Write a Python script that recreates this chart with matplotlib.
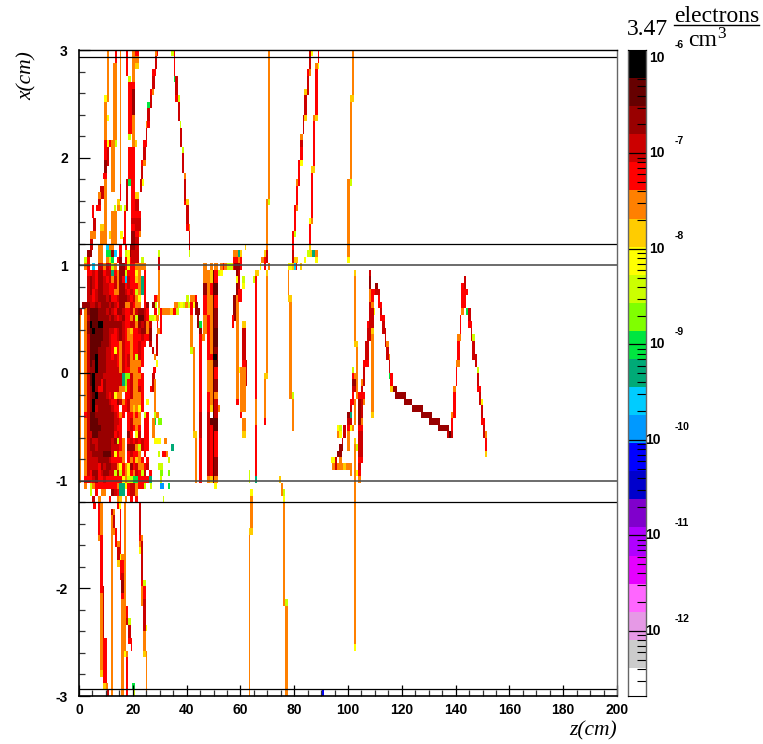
import numpy as np
import matplotlib
matplotlib.use("Agg")
import matplotlib.pyplot as plt
from matplotlib.colors import ListedColormap, BoundaryNorm
from matplotlib.ticker import MultipleLocator, FixedLocator, NullFormatter

W, H = 763, 744
# log10(density) of each palette band
K, D, M, C, R, O, A, Y, L, G, E, T, S, B, N = (-6.05, -6.35, -6.65, -6.95, -7.25, -7.55, -7.82,
                                              -8.1, -8.4, -8.7, -9.0, -9.3, -9.6, -9.9, -10.2)
code = dict(K=K, D=D, M=M, C=C, R=R, O=O, A=A, Y=Y, L=L, G=G, E=E, T=T, S=S, B=B, N=N)

band_colors = ["#ffffff", "#cccccc", "#e699e6", "#ff66ff", "#e600ff", "#b000ff", "#8000cc", "#0000cc",
               "#0000ff", "#0099ff", "#00ccff", "#00aa77", "#00e640", "#80ff00", "#ccff00", "#ffff00",
               "#ffcc00", "#ff8000", "#ff0000", "#cc0000", "#990000", "#660000", "#000000"]
band_edges = np.linspace(-12.68, -5.92, 24)

# dense core: one string per 0.06 cm row from x = 1.20 downward, one char per 1 cm of z
dense_rows = [
    "....C..OO.SOO..R.R.MMR",
    "...MM..OO.EEMS.R.LYMMR",
    "..LR...OO.OLE.RM.RYRRR.L",
    "..OR.S.CCOCRLO.MMRYRROOOO",
    "...RRCRMMRCCTROMMLRRRYO.R",
    "...CMCRMMCRCOCOMRSCRRAOTR",
    "...CMCRMMCCRRCOMMRCRRROTR",
    "...CMRCMMCCRROOMMCRCRLOTR",
    "...CCRCMMMCMRRCMMMCRCOY.R",
    ".MMMCCMCMMMCMCRMMOOCROO.RM",
    "C.OMDDDMMMCMCRMMCRRCOCMMCR",
    "..OCDDDMMMMCMCRCMRROCLDDCRL",
    "..OMKDDKKMMMMMMMCRRCCOMCMOC",
    "..OMDKDDDMMCCRCMCROARRCMMOM",
    "..OCDDDDDMMCRRCMCROORRRCRRM",
    "..OCDDDDMMMCRRROCRRORRCRR.C",
    "..OCDDDMMMCCRYROCRRORRCR...C",
    "..OCDDKMMMCCRCROCRCORLCR",
    "..OCDMKMMMCCCCROCRCOOOOR",
    "..OCMMKMMMCCCCCOCRROOOR",
    "..OCDKMMMCCCCCCCTGGCOOOR",
    "..OCDKMMRMCCCCCCTGRCOORR",
    "..OCMKMRRMCCCCCOOLRCOOCR",
    "..OCMDKMMMCRCYOO.RRCOOOR",
    "..OCMKMMMMMCRRMCORCOOOOR",
    "..OCMKCMMMMMCRR.RRCOAOYR",
    "..RCDDMMMMMMMCROR.RRORO.LR",
    "..OCDDDMMMMMMCCR..RCOOO.R",
    "..OCDDDDMMMMMCRR..RCROR.R",
    "..OCCDDMMMMMMRCR..MR.YC.R",
    "..OCMCCMMMMMCMLRO.RCRCRCR",
    "..OCMMCMMMMMCCCRO.MMMOLCRR",
    "..OCCMMMMDDDCYROO.RCRRO.R",
    "..OCCCCMMMMCRRRRO.RORAOR.R",
    "..OCCCCRMCMMCCOYROYMRCOORC",
    "..OCRMMRCMMCCLCLROYROCRLC.R",
    "..RRRCMRRCRRRRRRYOLLEERRRRT",
    "..O.LORRRRRRRROTTYRCCORRL",
    "....L.R.OO..MCRTT.RCCO",
    ".....C.O...R..OA.O.R.R",
]

# (z0, z1, x_top, x_bottom, log10 value)
top_left = [
    (10.4,11.2,3,2.52,O),(9.4,10.4,2.58,2.52,Y),(9.4,10.4,2.52,2.16,O),(10.4,11.2,2.4,2.34,Y),
    (9.4,10.4,2.16,1.98,R),(10.4,11.2,2.16,2.1,Y),(10.4,11.2,2.1,1.92,C),(11.2,12,2.16,2.1,R),
    (9.2,10.4,1.98,1.86,M),(8.9,10.4,1.86,1.8,R),(9.3,10.4,1.8,1.2,O),(7.8,9.3,1.74,1.62,C),
    (7,8,1.68,1.62,O),(7,8,1.62,1.56,C),(6.3,8,1.56,1.5,R),(5,5.4,1.56,1.44,R),(5.1,6.3,1.44,1.32,C),
    (5.1,6.3,1.32,1.25,O),(4,5.1,1.32,1.25,O),(4,5.1,1.25,1.14,C),(7.8,9.3,1.38,1.32,A),(7.8,9.3,1.32,1.2,O),
    (12.6,14.1,2.88,2.16,O),(12,13.3,2.16,2.1,O),(13.3,14,2.16,2.1,L),(12,13.3,2.1,1.68,O),
    (13.4,14.1,3,2.88,R),(15.3,15.7,3,1.76,O),(15.3,15.7,1.76,1.6,R),(14.1,15.3,1.62,1.56,A),
    (14.1,15.3,1.56,1.5,O),(13,13.9,1.56,1.5,L),(15.2,16,1.56,1.5,L),(13,14,1.5,1.2,O),(12,13,1.5,1.2,O),(11.2,12,1.32,1.25,A),
    (17.5,18.2,3,2.76,R),(18.2,19.3,2.76,2.7,L),(18.2,19.6,2.7,2.22,R),(18.2,19.3,2.22,2.16,L),
    (18.2,19.6,2.1,1.8,R),(18.2,19.3,1.8,1.74,E),(17.5,18.2,1.8,1.5,C),(16.7,17.5,1.56,1.5,L),
    (16.7,17.5,1.5,1.2,R),(15.3,16.2,1.32,1.25,Y),(16.2,17,1.26,1.2,R),
    (19.7,21,3,2.88,O),(21,22.2,3,2.94,R),(21,22.2,2.94,2.88,O),(21,22.2,2.88,2.82,A),
    (19.7,21,2.88,2.7,O),(19.7,21,2.7,2.64,R),(19.7,21,2.64,2.4,M),(19.7,21,2.4,2.1,O),(21,21.6,2.16,2.1,A),
    (19.4,21,2.1,1.44,R),(19.4,21,1.44,1.38,C),(19.4,21,1.38,1.32,R),(19.4,21,1.32,1.14,M),(19.4,21,1.14,1.02,C),
    (21,22.2,1.68,1.62,A),(21,22.2,1.62,1.5,C),(21,23,1.5,1.44,R),(21,22.2,1.44,1.32,C),(21,22.2,1.32,1.26,R),
    (22.2,23,1.32,1.26,O),(21,22.2,1.26,1.02,C),(22.2,23,1.44,1.32,C),(22.8,23.6,1.8,1.68,C),(23.6,24.2,1.8,1.74,Y),
]
track_b = [
    (28.3,29.5,3,2.94,O),(28.9,29.5,3,2.94,R),(28.1,29.1,2.94,2.82,C),(27.3,28.6,2.82,2.76,R),
    (27.3,28.1,2.76,2.64,C),(26.4,27.1,2.64,2.58,R),(27.1,27.8,2.64,2.58,O),(26.4,27.1,2.58,2.46,C),
    (25.4,26.4,2.52,2.46,E),(25.4,26.4,2.46,2.34,C),(24.9,25.4,2.34,2.28,O),(25.4,26.4,2.34,2.28,R),
    (25,25.4,2.28,2.16,C),(23.9,25.1,2.16,2.1,R),(23.9,25,2.1,1.98,C),(23,23.8,1.98,1.92,R),
    (23.8,24.9,1.98,1.92,O),(23,23.8,1.92,1.8,C),
]
track_c = [
    (34.2,35.2,3,2.94,L),(35.3,35.8,3,2.76,R),(35.3,35.8,2.76,2.7,E),(35.8,36.7,2.76,2.58,C),
    (35.8,36.7,2.58,2.52,R),(36.7,37.5,2.58,2.52,L),(36.8,37.5,2.52,2.34,C),(37.5,38.1,2.34,2.28,L),
    (37.5,38.2,2.28,2.1,C),(38.2,39,2.1,2.04,L),(38.2,39,2.04,1.86,C),(39,39.8,1.86,1.8,O),
    (39,39.8,1.8,1.6,C),(39,39.8,1.6,1.56,R),(39.8,40.8,1.62,1.56,A),(39.8,40.8,1.56,1.38,C),
    (39.8,40.8,1.38,1.32,R),(40.8,41.3,1.38,1.32,O),(41,41.3,1.32,1.14,C),(41,41.3,1.14,1.08,L),
]
core_right = [
    (29.4,30.1,1.14,1.08,L),(29.4,30.1,1.08,.96,C),(29.4,30.1,.96,.72,O),
    (28,29,.72,.66,R),(29,30,.72,.66,O),(27,28.2,.66,.6,M),(28.2,29,.66,.6,L),(29.4,30.2,.66,.6,O),
    (28,29,.6,.54,R),(29.2,30,.6,.54,L),(30,31,.6,.54,R),(31,34,.6,.54,O),(34,35,.6,.54,A),
    (35,36,.6,.54,R),(36,37,.6,.54,L),(35.5,36.7,.66,.6,O),(36.7,37.5,.66,.6,L),(37.5,38.5,.66,.6,Y),
    (38.5,39.5,.66,.6,L),(39.5,40.5,.66,.6,O),(40.5,41.5,.66,.6,L),(41.5,43,.66,.6,O),
    (39.8,40.8,.72,.66,L),(41.3,43.5,.72,.66,O),(43,44,.66,.6,M),(43.5,45,.6,.54,M),
    (27,27.7,.54,.48,L),(27.7,28.7,.54,.48,Y),(28.7,29.7,.54,.48,O),(30,31,.54,.48,R),
    (30,31,.48,.36,R),(29,29.5,.48,.36,R),(29,30,.42,.36,O),(28.7,29.4,.36,.15,C),
    (27.7,28.7,.18,.12,O),(28.7,29.4,.12,.06,Y),(27.6,28.6,.06,0,R),(27,28.2,0,-.18,C),
    (26.4,27,-.12,-.18,R),(27.7,28.6,-.06,-.36,O),(25,26,-.24,-.3,Y),(27.8,28.8,-.36,-.42,L),
    (28.8,29.8,-.36,-.42,O),(27.8,28.8,-.42,-.48,E),(29.5,31,-.42,-.48,G),(25,26.2,-.42,-.66,R),
    (27.3,28.1,-.42,-.6,O),(27.8,30.3,-.6,-.66,Y),(31.6,32.6,-.6,-.66,O),(34.2,35.2,-.66,-.72,T),
    (29.2,30,-.72,-.78,L),(31,32.2,-.72,-.78,R),(32.2,33.2,-.72,-.78,O),(33.2,34,-.78,-.84,L),
    (29.2,31.2,-.84,-.9,L),(30.2,31.2,-.9,-.96,G),(33.2,34,-.9,-.96,G),(30.2,31,-.96,-1.02,L),
    (30.2,31.5,-1.02,-1.08,B),(33.2,34,-1.02,-1.08,E),(26.5,27.2,-1.02,-1.08,L),(31.4,31.7,-1.14,-1.2,L),
    (0,.7,.54,-1.02,O),
]
stripes_42_52 = [
    (41.3,43.1,.72,.66,O),(41.3,42.3,.66,.54,R),(41.3,42.3,.54,.24,O),(41.3,42.3,.24,.18,L),
    (42.3,43.1,.66,.6,Y),(42.3,43.1,.24,-.54,O),(42.3,43.9,-.54,-.6,A),(43.1,43.9,-.6,-1.02,O),
    (43.1,44,.72,.66,R),(43.1,44.1,.66,.54,M),(44,44.7,.6,.42,M),(44.6,45.8,.48,.42,E),
    (44.6,45.8,.42,.36,M),(44.6,45.8,.36,-1.02,R),(44.6,45.8,-.36,-.6,C),(45.9,46.9,.36,.3,O),
    (46.2,47.5,1.02,.84,O),(46.2,47.5,.84,.72,M),(46.2,47.5,.72,.54,R),(46.2,47.5,.54,.36,O),
    (47.5,48.7,.96,.54,O),(47.5,48.7,.54,.12,R),(47.5,48.7,.12,-.18,O),(47.5,48.7,-.18,-.36,R),
    (47.5,48.7,-.36,-.96,C),(47.5,48.7,-.96,-1.02,O),
    (48.7,49.7,1.02,.96,O),(48.7,49.7,.96,.84,A),(48.7,49.7,.84,.72,R),(48.7,49.7,.72,.18,O),
    (48.7,49.7,.18,.12,R),(48.7,49.7,.12,-.3,O),(48.7,49.7,-.3,-.36,A),(48.7,49.7,-.42,-.48,D),
    (48.7,49.7,-.48,-.96,R),(48.7,49.7,-.96,-1.02,A),
    (49.7,50.2,.96,-1.02,D),(50.2,51.6,1.02,.96,O),(50.2,51.6,.96,.84,R),(50.2,51.6,.84,.72,D),
    (50.2,51.6,.72,.6,R),(50.2,51.6,.6,.42,M),(50.2,51.6,.42,.24,D),(50.2,51.6,.24,.12,M),
    (50.2,51.6,.12,.06,D),(50.2,51.6,.06,-.06,R),(50.2,51.6,-.06,-.18,M),(50.2,51.6,-.18,-.24,O),
    (50.2,51.6,-.24,-.42,C),(50.2,51.6,-.42,-.54,D),(50.2,51.6,-.54,-.78,R),(50.2,51.6,-.78,-.96,M),
    (50.2,51.6,-.96,-1.02,O),(50.2,51.2,-1.02,-1.08,Y),(49.9,51.4,.18,.12,K),(51.6,52.6,-.3,-.36,O),
    (51.6,52.4,.96,.9,L),(52.4,53.6,.96,.9,Y),(52.5,53.4,1.02,.96,O),(53.4,54,1.02,.96,R),(54,55.1,1.02,.96,O),
    (55.1,56.2,1.02,.96,L),(56.2,58.7,1.02,.96,M),(58.7,59.6,1.02,.96,A),
]
stripes_57_80 = [
    (57.1,58.5,.72,.48,M),(56.9,57.5,.54,.42,R),(58.4,59.6,.96,.72,M),(58.4,59.3,.9,.84,Y),
    (58.4,59.6,.72,-.24,O),(58.4,59.3,-.24,-.3,R),(59.2,60,.96,.78,C),(59.1,60.6,.78,.66,R),
    (60.6,61.7,.9,.84,L),(60.6,61.7,.84,.78,Y),(60.6,62,.48,.42,A),(60.6,62,.42,.12,C),(60.6,62,.12,.06,R),
    (60,62,.06,-.36,O),(59.4,60,.06,0,Y),(60,60.6,-.36,-.42,R),(60.6,62,-.42,-.54,O),(60.6,62,-.54,-.6,A),
    (62,62.3,.12,-.12,C),
    (65.4,66.2,.9,-.24,R),(65.4,66.2,-.24,-.48,O),(65.4,66.2,-.48,-.96,R),(65.4,66.2,-.96,-1.02,T),
    (64.6,65.3,.9,.84,L),(65.4,66.9,.96,.9,A),
    (69.5,70.3,.9,0,O),(68.8,70.3,0,-.06,A),(68.8,69.5,-.06,-.42,O),(68.8,69.5,-.42,-.48,R),
    (69.5,70.3,.96,.9,A),(70.3,71,1.02,.96,O),
    (77.8,78.2,.96,.72,O),(77.8,79.1,.72,.66,A),(78.1,79.1,.66,-.24,O),(79.1,80,-.18,-.24,L),(79.1,80,-.24,-.54,O),
    (77.8,79,1.02,.96,Y),(79,79.8,1.02,.96,A),(79.8,80.5,1.02,.96,S),(80.5,81.2,1.02,.96,R),(82,83,1.02,.96,A),
]
upper_right = [
    (57.2,58.4,1.14,1.08,O),(59.1,59.8,1.14,1.08,T),(58.4,59.1,1.14,1.08,O),(59.8,60.6,1.14,1.08,A),(61.6,61.9,1.2,1.14,A),
    (57.2,59,1.08,.96,R),(57.6,59,1.02,.96,M),(59,59.8,1.08,1.02,O),(59.8,60.6,1.08,.96,R),(59,60,1.02,.96,M),(56.1,57.2,1.02,.96,L),
    (70.3,71,3,1.62,O),(70.3,71,1.62,1.56,L),(69.5,70.3,1.62,1.14,O),(68.8,69.5,1.14,1.08,A),
    (69.5,70.3,1.14,1.02,C),(67.7,68.8,1.08,1.02,O),(68.8,69.5,1.08,.96,R),(67.3,67.7,1.02,.96,Y),(70.3,71,1.02,.96,O),
    (85.5,86.2,3,2.82,C),(86.2,86.9,3,2.94,Y),(85.5,86.2,2.82,2.76,O),(84.8,85.5,2.82,2.76,R),
    (84.8,85.5,2.76,2.58,C),(83.6,84.8,2.64,2.58,A),(83.6,84.8,2.58,2.4,C),(83.6,84.8,2.4,2.34,A),
    (83.3,83.6,2.4,2.22,C),(82.1,83.3,2.22,2.16,O),(82.1,83.3,2.16,2.1,C),(82.1,83.3,2.1,1.98,R),
    (82.1,83.3,1.98,1.92,Y),(81.4,82.1,1.98,1.74,R),(80.7,81.4,1.8,1.74,O),(80.7,81.4,1.74,1.56,R),
    (80.7,81.4,1.56,1.5,O),(79.9,80.7,1.56,1.32,R),(79.9,80.7,1.32,1.26,L),(79.2,79.9,1.32,1.14,R),
    (79.2,79.9,1.14,1.02,C),(79.9,81.4,1.08,1.02,A),(77.7,79.2,1.02,.96,Y),
    (88.9,89.2,3,2.88,R),(87.7,88.9,2.88,2.82,O),(88.9,89.2,2.88,2.82,Y),(87.7,88.9,2.82,2.4,R),
    (87.7,88.9,2.4,2.34,A),(87,87.7,2.4,2.34,O),(87,87.7,2.34,1.92,R),(86.2,87.7,1.92,1.86,A),
    (86.2,87,1.86,1.44,R),(85.5,86.2,1.44,1.38,Y),(86.2,87,1.44,1.38,O),(85.5,86.2,1.38,1.2,R),
    (85.5,86.2,1.2,1.14,A),(84.8,85.9,1.14,1.08,L),(85.9,86.8,1.14,1.08,A),(86.8,87.7,1.14,1.08,T),
    (87.7,88.9,1.14,1.08,O),(87.7,88.9,1.08,1.02,Y),(83.5,84.4,1.08,1.02,Y),
    (101.5,102.2,3,2.58,O),(100.7,102.2,2.58,2.52,A),(100.7,101.5,2.52,1.8,O),(99.6,100.7,1.8,1.08,O),
    (100.7,101.5,1.8,1.74,L),(99.6,100.7,1.08,1.02,Y),
]
lower_left = [
    (5.2,6.3,-1.2,-1.26,R),(7,7.8,-1.2,-1.5,R),(7.8,8.9,-1.2,-1.5,O),(7,7.8,-1.5,-1.56,O),
    (7.8,8.9,-1.5,-2.04,R),(7.8,8.9,-2.04,-2.76,O),(8.9,9.3,-1.98,-2.76,C),(7.8,8.9,-2.76,-2.82,A),
    (8.9,10.4,-2.46,-2.88,R),(9,10,-2.88,-2.94,A),(10,10.7,-2.88,-2.94,O),(10.4,11.2,-2.94,-3,C),(8.9,9.1,-2.94,-3,R),
    (11.9,12.6,-1.26,-1.32,C),(12.6,13.4,-1.26,-1.32,O),(11.9,12.6,-1.32,-3,O),(12.6,13.4,-1.32,-1.44,C),
    (12.6,13.4,-1.44,-1.5,O),(13.4,14.1,-1.44,-1.62,R),(14.1,15.2,-1.56,-1.62,O),(14.1,15.2,-1.62,-1.74,C),
    (14.1,15.2,-1.74,-1.8,A),(14.1,14.9,-1.2,-1.26,R),(14.9,15.6,-1.2,-1.26,Y),(15.3,15.6,-1.26,-1.68,R),
    (15.3,15.6,-1.68,-1.74,Y),(15.6,17,-1.68,-1.74,O),(15.3,16.7,-1.74,-1.92,R),(15.6,16.7,-1.86,-1.92,C),
    (15.6,16.7,-1.92,-2.04,M),(15.6,16.7,-2.04,-2.1,R),(15.6,16.7,-2.1,-3,O),(16.7,17.4,-2.04,-2.16,C),
    (17.4,18.2,-2.16,-2.28,R),(17.4,18.2,-2.28,-2.34,C),(18.2,19.3,-2.28,-2.34,L),(18.2,19.3,-2.34,-2.46,C),
    (18.2,19.7,-2.46,-2.52,R),(19.3,19.7,-2.52,-2.58,R),
    (16.7,17.4,-1.2,-2.58,O),(16.7,17.4,-2.58,-2.64,Y),(17.4,18.2,-2.58,-2.64,O),(17.4,18.2,-2.64,-3,R),
    (19.7,20.7,-2.88,-2.94,E),(20.2,20.7,-2.94,-3,L),
    (22.3,23,-1.2,-1.5,C),(23,23.8,-1.5,-1.56,O),(22.3,23,-1.5,-1.56,R),(22.3,23,-1.56,-1.62,O),
    (22.3,23,-1.62,-1.68,Y),(23,23.8,-1.56,-1.92,C),(23.8,24.9,-1.92,-1.98,L),(23,23.8,-1.92,-1.98,R),
    (23,23.8,-1.98,-2.16,O),(23.8,24.9,-1.98,-2.1,R),(23.8,24.9,-2.1,-2.4,C),(24.9,25.2,-2.34,-2.4,Y),
    (23.8,24.9,-2.4,-2.58,O),(23.8,24.9,-2.58,-2.64,A),(24.9,25.2,-2.58,-3,O),
]
lower_right = [
    (63.2,63.5,-.9,-1.02,L),(63.6,64.7,-1.08,-1.14,Y),(63.6,64.7,-1.14,-1.44,O),(63.2,64.7,-1.44,-1.5,A),
    (63.2,63.6,-1.5,-3,O),(65.4,66,-.9,-.96,R),
    (74.4,75.1,-.96,-1.02,A),(75.1,75.8,-1.02,-1.14,O),(75.8,76.6,-1.08,-1.14,L),(75.8,76.6,-1.14,-1.2,Y),
    (75.8,76.6,-1.2,-2.16,O),(76.6,77.7,-2.1,-2.16,L),(76.6,77.7,-2.16,-3,O),
    (100.7,101.5,-.9,-.96,O),(102.2,102.9,-.9,-2.52,O),(102.2,102.9,-2.52,-2.58,Y),(102.9,103.7,-.9,-.96,Y),
    (103.7,104.8,-.9,-.96,R),(103.7,104.8,-.96,-1.02,O),(90.3,91,-2.94,-3,N),
]
peak_track = [
    (102.2,103,.96,.9,A),(102.2,103,.9,.3,O),(102.2,103.7,.3,.24,A),(103,103.7,.24,-.24,O),
    (102.2,103,-.24,-.48,O),(102.2,103,-.6,-.66,A),(103,103.7,-.66,-.72,L),(102.2,103,-.66,-1.08,O),(103,103.7,-.9,-.96,Y),
    (93.7,95.2,-.78,-.84,Y),(95.2,95.9,-.78,-.84,C),(96.7,97.8,-.78,-.84,O),(94,95.2,-.84,-.9,O),(95.2,95.9,-.84,-.9,C),
    (95.9,98.2,-.84,-.9,O),(98.2,99.3,-.84,-.9,A),(99.3,101.5,-.84,-.9,O),(100.8,101.5,-.9,-.96,O),
    (95.9,97.8,-.72,-.78,M),(96.7,98.2,-.66,-.72,M),(97.8,98.2,-.6,-.66,C),
    (95.9,96.7,-.54,-.6,O),(96.7,97.8,-.54,-.6,Y),(98.2,99.3,-.54,-.6,C),(95.9,96.7,-.48,-.54,Y),
    (96.7,97.8,-.48,-.54,L),(98.2,99.3,-.48,-.54,C),(99.6,100.8,-.54,-.72,O),(99.6,100.8,-.48,-.54,R),
    (100.8,101.5,-.48,-.54,Y),(101.5,102.2,-.48,-.54,O),(99.6,100.8,-.36,-.42,M),(100.8,101.5,-.36,-.42,T),
    (99.6,101.5,-.42,-.48,C),(100.8,101.5,-.3,-.36,C),(100.8,102.2,-.24,-.3,R),(101.5,102.2,-.18,-.24,R),
    (101.5,103,-.12,-.18,C),(101.5,103,-.06,-.12,M),(101.5,102.2,0,-.06,R),(102.2,103,0,-.06,O),(101.5,102.2,.06,0,L),
    (103.7,106.3,-.18,-.24,R),(103.7,104.8,-.24,-.48,M),(104.8,105.6,-.24,-.42,C),(104.8,105.6,-.42,-.48,O),
    (103.7,105.6,-.48,-.54,R),(103.7,105.6,-.54,-.78,C),(103.7,105.6,-.78,-.84,R),(103.7,104.8,-.84,-.9,C),
    (103.7,104.8,-.9,-.96,R),(103.7,104.8,-.96,-1.02,O),(105.6,106.3,-.24,-.3,O),
    (104.8,105.6,-.06,-.12,O),(104.8,105.6,-.12,-.18,C),(105.6,106.3,.12,-.12,C),(105.6,107.8,.12,.06,R),
    (106.3,107.8,.3,.12,C),(107.1,107.8,.48,.42,R),(107.1,108.6,.42,.36,C),(107.1,108.6,.36,.3,C),
    (107.8,108.6,.96,.9,C),(107.8,108.6,.9,.78,M),(110,111.2,.84,.78,M),(108.6,110,.78,.72,R),(110,111.9,.78,.72,C),
    (107.8,108.6,.78,.66,O),(108.6,109.7,.72,.66,R),(111.2,111.9,.72,.66,R),(111.2,112.7,.66,.6,R),
    (108.6,109.7,.66,.6,O),(107.8,108.6,.66,.42,C),(108.6,109.7,.6,.54,C),(109.7,110,.6,.54,Y),(111.9,112.7,.6,.54,C),
    (108.6,109.7,.54,.42,C),(111.9,113.8,.54,.48,R),(112.7,113.8,.48,.36,C),(108.6,109.7,.42,.36,A),
    (108.6,109.7,.36,-.36,O),(108.6,109.7,-.36,-.42,A),(113.8,114.1,.42,.24,C),(114.1,115.2,.3,.24,O),
    (114.1,115.2,.24,.12,C),(115.2,115.5,.18,.12,O),(115.2,115.6,.12,0,C),(115.2,115.6,0,-.06,E),
    (115.6,116.7,0,-.12,R),(115.6,116.7,-.12,-.18,A),(116.7,118.2,-.12,-.18,M),(117.5,121.6,-.18,-.24,M),
    (120.8,123.8,-.24,-.3,M),(123.8,127.9,-.3,-.36,M),(127.1,131.2,-.36,-.42,M),(130.1,134.2,-.42,-.48,M),
    (133.5,137.6,-.48,-.54,M),(136.8,139,-.54,-.6,C),(137.6,138.3,-.54,-.6,D),
    (138.3,139,-.42,-.54,R),(138.3,139,-.36,-.42,O),(139,140.2,-.18,-.42,R),(139,140.2,-.12,-.18,O),
    (140.2,140.5,.06,-.12,R),(140.2,141.6,.12,.06,O),(140.5,141.6,.3,.12,R),(140.5,142,.36,.3,O),
    (141.6,142,.54,.36,R),(142,143.1,.6,.54,O),(142,143.1,.84,.6,R),(143.1,143.9,.9,.78,C),
    (143.1,144.6,.78,.72,R),(143.1,143.9,.72,.6,R),(143.9,144.6,.6,.54,E),(144.6,145.7,.6,.48,C),
    (144.6,146.1,.48,.42,R),(145.7,146.1,.42,.3,C),(146.1,147.2,.36,.3,L),(146.1,147.2,.3,.12,C),
    (147.2,148,.18,.06,C),(148,148.7,.06,0,L),(148,148.7,0,-.12,C),(148,149.5,-.12,-.18,R),
    (148.7,149.5,-.18,-.24,C),(149.5,150.2,-.24,-.3,Y),(148.7,149.5,-.24,-.3,C),(149.5,150.2,-.3,-.42,C),
    (149.5,150.9,-.42,-.48,R),(150.2,150.9,-.48,-.6,C),(150.9,151.7,-.54,-.6,O),(150.9,151.7,-.6,-.72,R),(150.9,151.7,-.72,-.78,A),
]
hlines_solid = [2.935, 1.2, -1.2, -2.935]
hlines_grey = [1.0, -1.0]
colorbar_decades = [-6, -7, -8, -9, -10, -11, -12]
xticks_major = [0, 20, 40, 60, 80, 100, 120, 140, 160, 180, 200]
yticks_major = [-3, -2, -1, 0, 1, 2, 3]

dz, dx = 0.1, 0.02
z_edges = np.arange(0, 200 + dz / 2, dz)
x_edges = np.linspace(3, -3, 301)
grid = np.full((300, 2000), np.nan)

def put(z0, z1, xt, xb, v):
    i0, i1 = int(round(z0 / dz)), int(round(z1 / dz))
    j0, j1 = int(round((3 - xt) / dx)), int(round((3 - xb) / dx))
    grid[j0:max(j1, j0 + 1), i0:max(i1, i0 + 1)] = v

for r, row in enumerate(dense_rows):
    for c, ch in enumerate(row):
        if ch != ".":
            put(c, c + 1, 1.2 - 0.06 * r, 1.2 - 0.06 * (r + 1), code[ch])
for seglist in (top_left, track_b, track_c, core_right, stripes_42_52, stripes_57_80,
                upper_right, lower_left, lower_right, peak_track):
    for seg in seglist:
        put(*seg)

cmap = ListedColormap(band_colors)
norm = BoundaryNorm(band_edges, cmap.N)

plt.rcParams["font.family"] = ["Liberation Sans", "DejaVu Sans"]
plt.rcParams["axes.unicode_minus"] = False
fig = plt.figure(figsize=(W / 100, H / 100), dpi=100)
ax = fig.add_axes([79 / W, 1 - 696 / H, (617 - 79) / W, (696 - 50) / H])
ax.pcolormesh(z_edges, x_edges, np.ma.masked_invalid(grid), cmap=cmap, norm=norm,
              shading="flat", antialiased=False, rasterized=True)
ax.set_xlim(0, 200)
ax.set_ylim(-3, 3)
for v in hlines_solid:
    ax.axhline(v, color="black", lw=0.9)
for v in hlines_grey:
    ax.axhline(v, color="#444444", lw=1.1)

ax.set_xticks(xticks_major)
ax.set_yticks(yticks_major)
ax.xaxis.set_minor_locator(MultipleLocator(5))
ax.yaxis.set_minor_locator(MultipleLocator(0.2))
ax.tick_params(axis="x", which="major", direction="in", length=8, width=0.9, labelsize=10, pad=5)
ax.tick_params(axis="y", which="major", direction="in", length=8, width=0.9, labelsize=10, pad=8)
ax.tick_params(axis="both", which="minor", direction="in", length=4, width=0.9, color="#333333")
for lab in ax.get_xticklabels() + ax.get_yticklabels():
    lab.set_fontweight("bold")
ax.spines["left"].set_linewidth(1.2)
ax.spines["bottom"].set_linewidth(1.2)
ax.spines["top"].set_linewidth(1.0)
ax.spines["right"].set_linewidth(1.0)
ax.spines["right"].set_color("#666666")

serif = ["Liberation Serif", "DejaVu Serif"]
fig.text(617 / W, 1 - 735 / H, "z(cm)", ha="right", va="baseline", style="italic", family=serif, fontsize=15.5)
fig.text(27 / W, 1 - 51 / H, "x(cm)", rotation=90, ha="center", va="top", style="italic", family=serif, fontsize=15.5)

# colour bar
cax = fig.add_axes([628 / W, 1 - 696 / H, 18 / W, (696 - 50) / H])
cax.pcolormesh([0, 1], 10.0 ** band_edges, ((band_edges[:-1] + band_edges[1:]) / 2)[:, None],
               cmap=cmap, norm=norm, shading="flat", antialiased=False)
cax.set_yscale("log")
cax.set_ylim(10.0 ** band_edges[0], 10.0 ** band_edges[-1])
cax.set_xlim(0, 1)
cax.set_xticks([])
cax.yaxis.tick_right()
cax.yaxis.set_major_locator(FixedLocator([10.0 ** d for d in colorbar_decades]))
cax.yaxis.set_minor_locator(FixedLocator([m * 10.0 ** d for d in range(-13, -5) for m in range(2, 10)]))
cax.yaxis.set_major_formatter(NullFormatter())
cax.yaxis.set_minor_formatter(NullFormatter())
cax.tick_params(axis="y", which="major", direction="in", length=13, width=0.9)
cax.tick_params(axis="y", which="minor", direction="in", length=6.5, width=0.8)
for side in ("left", "right"):
    cax.spines[side].set_color("#666666")
    cax.spines[side].set_linewidth(1.0)
for d in colorbar_decades:
    y = 1 - (50 + (band_edges[-1] - d) / (band_edges[-1] - band_edges[0]) * 646) / H
    lx = 649 if d > -10 else 645
    fig.text(lx / W, y, "10", ha="left", va="center", fontsize=10, fontweight="bold")
    fig.text(675 / W, y + 12.5 / H, str(d), ha="left", va="center", fontsize=7.5, fontweight="bold")

# title
fig.text(627 / W, 1 - 35 / H, "3.47", ha="left", va="baseline", family=serif, fontsize=17)
fig.text(674 / W, 1 - 22 / H, "electrons", ha="left", va="baseline", family=serif, fontsize=17)
fig.add_artist(plt.Line2D([674 / W, 759 / W], [1 - 25 / H, 1 - 25 / H], color="black", lw=1.0))
fig.text(688 / W, 1 - 46 / H, "cm", ha="left", va="baseline", family=serif, fontsize=17)
fig.text(717 / W, 1 - 38 / H, "3", ha="left", va="baseline", family=serif, fontsize=12.5)

fig.savefig("out.png", dpi=100)
